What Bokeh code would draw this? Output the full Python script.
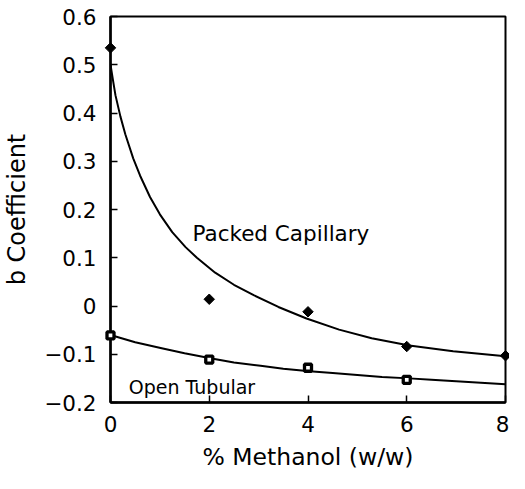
import math
from bokeh.plotting import figure
from bokeh.models import Range1d, FixedTicker, Label
from bokeh.embed import file_html
from bokeh.resources import INLINE

# ---- data ----
packed_x = [0, 2, 4, 6, 8]
packed_y = [0.535, 0.014, -0.012, -0.084, -0.103]

open_x = [0, 2, 4, 6]
open_y = [-0.061, -0.111, -0.128, -0.153]

# fitted curves
packed_fit_x = [0, 0.05, 0.1, 0.2, 0.3, 0.46, 0.6, 0.8, 1.0, 1.25, 1.52, 1.75, 2.12, 2.5, 2.91,
                3.4, 3.97, 4.63, 5.29, 6.05, 6.94, 8.0]
packed_fit_y = [0.50, 0.468, 0.437, 0.393, 0.356, 0.306, 0.27, 0.226, 0.19, 0.153, 0.122, 0.10, 0.069,
                0.044, 0.022, -0.002, -0.026, -0.049, -0.067, -0.082, -0.094, -0.104]

open_fit_x = [0, 0.5, 1.06, 1.5, 2.05, 2.5, 3.04, 3.5, 4.03, 4.5, 5.0, 5.5, 6.05, 6.5, 7.0, 7.5, 8.0]
open_fit_y = [-0.06, -0.075, -0.088, -0.098, -0.109, -0.117, -0.124, -0.130, -0.135, -0.139, -0.143,
              -0.147, -0.150, -0.153, -0.156, -0.159, -0.162]

x_ticks = [0, 2, 4, 6, 8]
x_tick_labels = ["0", "2", "4", "6", "8"]
y_ticks = [-0.2, -0.1, 0, 0.1, 0.2, 0.3, 0.4, 0.5, 0.6]
y_tick_labels = ["\u22120.2", "\u22120.1", "0", "0.1", "0.2", "0.3", "0.4", "0.5", "0.6"]

FONT = "DejaVu Sans"

p = figure(width=509, height=473, output_backend="svg", toolbar_location=None,
           x_range=Range1d(0, 8), y_range=Range1d(-0.2, 0.6),
           min_border_left=110, min_border_right=4, min_border_top=16, min_border_bottom=70)

p.background_fill_color = "white"
p.border_fill_color = "white"
p.outline_line_color = "black"
p.outline_line_width = 2
p.xgrid.visible = False
p.ygrid.visible = False

p.xaxis.ticker = FixedTicker(ticks=x_ticks)
p.yaxis.ticker = FixedTicker(ticks=y_ticks)
p.xaxis.major_label_overrides = {t: s for t, s in zip(x_ticks, x_tick_labels)}
p.yaxis.major_label_overrides = {t: s for t, s in zip(y_ticks, y_tick_labels)}

for ax in (p.xaxis, p.yaxis):
    ax.axis_line_width = 2.5
    ax.axis_line_color = "black"
    ax.major_tick_in = 7
    ax.major_tick_out = 0
    ax.major_tick_line_width = 1.5
    ax.major_tick_line_color = "black"
    ax.minor_tick_line_color = None
    ax.major_label_text_font = FONT
    ax.major_label_text_font_size = "21.5px"
    ax.major_label_text_color = "black"
    ax.axis_label_text_font = FONT
    ax.axis_label_text_font_style = "normal"
    ax.axis_label_text_color = "black"

p.xaxis.axis_label_text_font_size = "23.5px"
p.yaxis.axis_label_text_font_size = "24px"
p.xaxis.major_label_standoff = 13
p.yaxis.major_label_standoff = 14
p.xaxis.axis_label = "% Methanol (w/w)"
p.yaxis.axis_label = "b Coefficient"
p.xaxis.axis_label_standoff = 8
p.yaxis.axis_label_standoff = 10

# fitted curves
p.line(packed_fit_x, packed_fit_y, line_color="black", line_width=2, line_join="round")
p.line(open_fit_x, open_fit_y, line_color="black", line_width=2, line_join="round")

# data points
p.scatter(packed_x, packed_y, marker="square", size=7.4, angle=math.pi / 4,
          fill_color="black", line_color="black", line_width=1, level="overlay")
p.scatter(open_x, open_y, marker="square", size=7,
          fill_color="white", line_color="black", line_width=3.3, level="overlay")

p.add_layout(Label(x=1.66, y=0.151, text="Packed Capillary", text_font=FONT,
                   text_font_size="21.5px", text_color="black", text_baseline="alphabetic"))
p.add_layout(Label(x=0.37, y=-0.167, text="Open Tubular", text_font=FONT,
                   text_font_size="19px", text_color="black", text_baseline="alphabetic"))

open("out.html", "w").write(file_html(p, INLINE))
